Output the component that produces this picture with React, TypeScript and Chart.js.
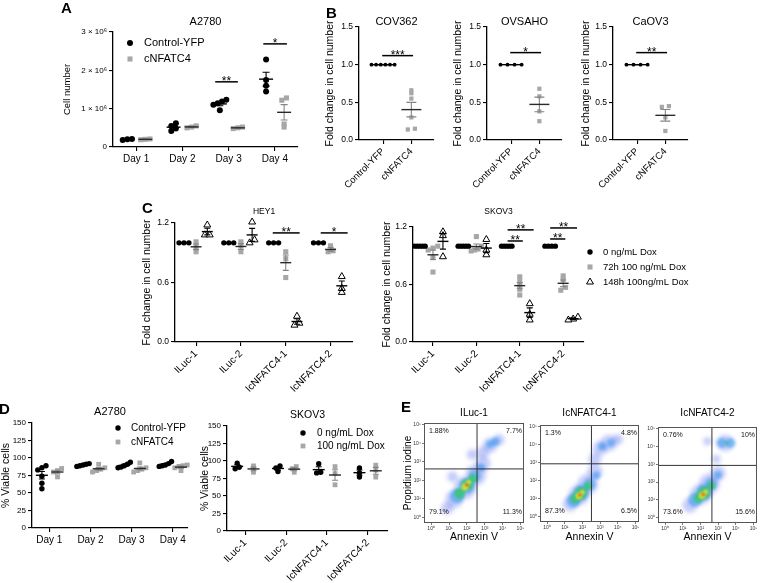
import React, { useEffect, useRef } from 'react';
import { Chart, registerables } from 'chart.js';

Chart.register(...registerables);

const W = 760;
const H = 583;
const FONT = "'Liberation Sans', Arial, Helvetica, sans-serif";
Chart.defaults.font.family = FONT;
Chart.defaults.color = '#000';

// ================= DATA =================
// Panel A: A2780 cell number (millions of cells)
const aDays = ['Day 1', 'Day 2', 'Day 3', 'Day 4'];
const aSeriesNames = ['Control-YFP', 'cNFATC4'];
const aControl = [[0.2, 0.18, 0.21], [0.62, 0.55, 0.48, 0.42], [0.96, 1.1, 1.14, 1.19, 1.23], [2.28, 1.75, 1.6, 1.45]];
const aNFATC4 = [[0.19, 0.2, 0.21], [0.55, 0.52, 0.5], [0.48, 0.5, 0.52], [1.28, 1.22, 0.6, 0.52]];
const aYTicks = [0, 1, 2, 3];
const aSig = [
  { x1: 1.71, x2: 2.2, y: 1.7, text: '**' },
  { x1: 2.75, x2: 3.26, y: 2.69, text: '*' },
];

// Panel B: fold change in cell number
const bCats = ['Control-YFP', 'cNFATC4'];
const bTitles = ['COV362', 'OVSAHO', 'CaOV3'];
const bControl = [[1, 1, 1, 1, 1, 1], [1, 1, 1, 1], [1, 1, 1, 1]];
const bNFATC4 = [[0.66, 0.62, 0.55, 0.3, 0.15, 0.14], [0.68, 0.58, 0.38, 0.25], [0.45, 0.44, 0.3, 0.12]];
const bYTicks = [0, 0.5, 1, 1.5];
const bStars = ['***', '*', '**'];
const bSigY = [1.12, 1.16, 1.16];

// Panel C: HEY1 and SKOV3 fold change
const cCats = ['ILuc-1', 'ILuc-2', 'IcNFATC4-1', 'IcNFATC4-2'];
const cSeriesNames = ['0 ng/mL Dox', '72h 100 ng/mL Dox', '148h 100ng/mL Dox'];
const cYTicks = [0, 0.6, 1.2];
const hey1Dox0 = [[1, 1, 1], [1, 1, 1], [1, 1, 1], [1, 1, 1]];
const hey1Dox72 = [[1.01, 0.96, 0.91], [1.01, 0.97, 0.91], [0.91, 0.84, 0.65], [0.97, 0.92, 0.91]];
const hey1Dox148 = [[1.18, 1.08, 1.08], [1.0, 1.03, 1.21], [0.26, 0.19, 0.17], [0.66, 0.54, 0.5]];
const hey1Sig = [
  { x1: 1.71, x2: 2.31, y: 1.1, text: '**' },
  { x1: 2.78, x2: 3.38, y: 1.1, text: '*' },
];
const skov3Dox0 = [[1, 1, 1, 1, 1], [1, 1, 1, 1, 1], [1, 1, 1, 1, 1], [1, 1, 1, 1]];
const skov3Dox72 = [[1.0, 0.98, 0.96, 0.88, 0.73], [1.1, 1.0, 0.97, 0.95, 0.96], [0.68, 0.63, 0.59, 0.55, 0.49], [0.69, 0.65, 0.57, 0.54]];
const skov3Dox148 = [[1.15, 1.11, 0.89], [1.07, 0.96, 0.91], [0.4, 0.29, 0.23], [0.26, 0.24, 0.23]];
const skov3Sig = [
  { x1: 1.72, x2: 2.32, y: 1.17, text: '**' },
  { x1: 1.72, x2: 2.07, y: 1.054, text: '**' },
  { x1: 2.7, x2: 3.32, y: 1.19, text: '**' },
  { x1: 2.7, x2: 3.05, y: 1.075, text: '**' },
];

// Panel D: % viable cells
const dYTicks = [0, 25, 50, 75, 100, 125, 150];
const dA2780Control = [[89, 86, 83, 74, 64, 56], [92, 91, 90, 89, 88], [94, 91, 89, 87, 86], [95, 92, 90, 89, 88]];
const dA2780NFATC4 = [[85, 82, 80, 73], [91, 86, 84, 82, 80], [93, 86, 84, 82, 80], [90, 89, 88, 86, 82]];
const dSkovSeriesNames = ['0 ng/mL Dox', '100 ng/mL Dox'];
const dSkov0 = [[97, 91, 89], [93, 90, 85], [96, 84, 83], [90, 83, 77]];
const dSkov100 = [[93, 89, 84], [92, 89, 84], [92, 82, 66], [94, 87, 77]];

// Panel E: flow cytometry (log10 Annexin V, log10 PI, spread in decades, density level)
const eTitles = ['ILuc-1', 'IcNFATC4-1', 'IcNFATC4-2'];
const ePercents = [
  ['1.88%', '7.7%', '79.1%', '11.3%'],
  ['1.3%', '4.8%', '87.3%', '6.5%'],
  ['0.76%', '10%', '73.6%', '15.6%'],
];
const eGateX = [2.57, 2.51, 2.65];
const eGateY = [2.62, 2.94, 2.94];
const eXRange = [-0.4, 5.2];
const eYRange = [-0.3, 5.1];
const eDecades = [0, 1, 2, 3, 4, 5];
const eDensity1 = [
  [0.9, 0.5, 0.35, 0], [1.3, 1.0, 0.5, 0], [1.9, 1.6, 0.62, 0], [2.5, 2.3, 0.58, 0], [2.9, 2.9, 0.42, 0],
  [2.9, 3.5, 0.35, 0], [3.3, 3.9, 0.42, 0], [3.8, 4.2, 0.32, 0], [2.3, 3.4, 0.3, 0], [1.2, 2.2, 0.3, 0],
  [1.45, 1.15, 0.4, 1], [2.0, 1.7, 0.45, 1], [2.45, 2.25, 0.35, 1], [2.8, 2.7, 0.22, 1], [3.3, 3.95, 0.22, 1], [3.6, 4.1, 0.24, 1],
  [1.6, 1.3, 0.3, 2], [2.0, 1.75, 0.34, 2], [2.35, 2.1, 0.25, 2],
  [1.9, 1.65, 0.19, 3], [2.1, 1.9, 0.14, 3],
  [2.0, 1.75, 0.1, 4],
];
const eDensity2 = [
  [1.3, 0.7, 0.42, 0], [1.8, 1.2, 0.58, 0], [2.3, 1.8, 0.58, 0], [2.7, 2.5, 0.42, 0], [2.7, 3.2, 0.36, 0],
  [3.0, 3.8, 0.42, 0], [3.5, 4.1, 0.47, 0], [4.0, 4.3, 0.3, 0],
  [1.5, 0.9, 0.4, 1], [1.9, 1.3, 0.45, 1], [2.4, 1.8, 0.35, 1], [2.8, 2.3, 0.22, 1], [3.1, 3.9, 0.22, 1], [3.6, 4.1, 0.22, 1],
  [1.6, 1.0, 0.28, 2], [1.9, 1.3, 0.35, 2], [2.3, 1.7, 0.22, 2],
  [1.8, 1.15, 0.19, 3], [2.0, 1.35, 0.14, 3],
  [1.85, 1.2, 0.1, 4],
];
const eDensity3 = [
  [1.4, 0.7, 0.42, 0], [2.0, 1.3, 0.58, 0], [2.5, 1.9, 0.58, 0], [3.0, 2.5, 0.42, 0], [2.9, 3.3, 0.24, 0],
  [3.4, 4.2, 0.47, 0], [2.4, 4.3, 0.24, 0],
  [1.7, 1.0, 0.4, 1], [2.2, 1.4, 0.45, 1], [2.6, 1.9, 0.35, 1], [3.0, 2.4, 0.22, 1], [3.2, 4.2, 0.28, 1], [3.7, 4.2, 0.28, 1],
  [1.9, 1.1, 0.28, 2], [2.2, 1.4, 0.35, 2], [2.6, 1.8, 0.22, 2], [3.5, 4.2, 0.1, 2],
  [2.1, 1.25, 0.19, 3], [2.3, 1.45, 0.14, 3],
  [2.15, 1.3, 0.1, 4],
];
const eDensity = [eDensity1, eDensity2, eDensity3];

// ================= STYLES =================
const GRAY = '#a7a7a7';
const eLevelColors = [
  'rgba(60,85,235,0.3)',
  'rgba(35,145,240,0.5)',
  'rgba(55,200,115,0.85)',
  'rgba(230,225,45,0.9)',
  'rgba(230,80,30,0.9)',
];
const SUP = ['\u2070', '\u00b9', '\u00b2', '\u00b3', '\u2074', '\u2075'];
const sBlack = { style: 'circle', fill: '#000', stroke: '#000', meanColor: '#000', ebColor: '#000' };
const sGray = { style: 'rect', fill: GRAY, stroke: GRAY, meanColor: '#2a2a2a', ebColor: '#858585' };
const sTri = { style: 'triangle', fill: '#fff', stroke: '#000', meanColor: '#000', ebColor: '#000' };

// ================= HELPERS =================
function swarm(vals: number[], cx: number, tol: number, step: number, half: number) {
  const idx = vals.map((_, i) => i).sort((a, b) => vals[a] - vals[b]);
  const out: any[] = new Array(vals.length);
  let cluster: number[] = [];
  const flush = () => {
    const n = cluster.length;
    const st = n > 1 ? Math.min(step, (2 * half) / (n - 1)) : 0;
    cluster.forEach((i, k) => {
      out[i] = { x: cx + (k - (n - 1) / 2) * st, y: vals[i] };
    });
    cluster = [];
  };
  idx.forEach((i) => {
    if (cluster.length && vals[i] - vals[cluster[cluster.length - 1]] > tol) flush();
    cluster.push(i);
  });
  flush();
  return out;
}

function fixAxis(width?: number, height?: number) {
  return (s: any) => {
    if (width !== undefined) s.width = width;
    if (height !== undefined) s.height = height;
    s.paddingLeft = 0;
    s.paddingRight = 0;
    s.paddingTop = 0;
    s.paddingBottom = 0;
  };
}

function drawMarker(ctx: any, style: string, x: number, y: number, r: number, fill: string, stroke: string) {
  ctx.beginPath();
  if (style === 'circle') ctx.arc(x, y, r, 0, Math.PI * 2);
  else if (style === 'rect') {
    const s = r * Math.SQRT1_2;
    ctx.rect(x - s, y - s, 2 * s, 2 * s);
  } else {
    ctx.moveTo(x, y - r);
    ctx.lineTo(x + r * 0.866, y + r * 0.5);
    ctx.lineTo(x - r * 0.866, y + r * 0.5);
    ctx.closePath();
  }
  ctx.fillStyle = fill;
  ctx.fill();
  if (style === 'triangle') {
    ctx.strokeStyle = stroke;
    ctx.lineWidth = 1;
    ctx.stroke();
  }
}

function makeDeco(p: any) {
  return {
    id: 'deco',
    beforeDatasetDraw(chart: any, args: any) {
      const ds = chart.data.datasets[args.index];
      if (ds && ds.blur) chart.ctx.filter = `blur(${ds.blur}px)`;
    },
    afterDatasetDraw(chart: any) {
      chart.ctx.filter = 'none';
    },
    afterDatasetsDraw(chart: any) {
      const ctx = chart.ctx;
      const xs = chart.scales.x;
      const ys = chart.scales.y;
      const ca = chart.chartArea;
      ctx.save();
      ctx.filter = 'none';
      chart.data.datasets.forEach((ds: any) => {
        if (!ds.groups) return;
        ds.groups.forEach((g: any) => {
          const n = g.vals.length;
          const mean = g.vals.reduce((a: number, b: number) => a + b, 0) / n;
          const sd = n > 1 ? Math.sqrt(g.vals.reduce((a: number, b: number) => a + (b - mean) ** 2, 0) / (n - 1)) : 0;
          const sem = sd / Math.sqrt(n);
          const px = xs.getPixelForValue(g.x);
          const pm = ys.getPixelForValue(mean);
          const pt = ys.getPixelForValue(mean + sem);
          const pb = ys.getPixelForValue(mean - sem);
          ctx.strokeStyle = ds.ebColor;
          ctx.lineWidth = 1.1;
          ctx.beginPath();
          ctx.moveTo(px, pt);
          ctx.lineTo(px, pb);
          ctx.moveTo(px - p.mean.cap, pt);
          ctx.lineTo(px + p.mean.cap, pt);
          ctx.moveTo(px - p.mean.cap, pb);
          ctx.lineTo(px + p.mean.cap, pb);
          ctx.stroke();
          ctx.strokeStyle = ds.meanColor;
          ctx.lineWidth = 1.4;
          ctx.beginPath();
          ctx.moveTo(px - p.mean.half, pm);
          ctx.lineTo(px + p.mean.half, pm);
          ctx.stroke();
        });
      });
      (p.sig || []).forEach((s: any) => {
        const x1 = xs.getPixelForValue(s.x1);
        const x2 = xs.getPixelForValue(s.x2);
        const y = ys.getPixelForValue(s.y);
        ctx.strokeStyle = '#000';
        ctx.lineWidth = 1.5;
        ctx.beginPath();
        ctx.moveTo(x1, y);
        ctx.lineTo(x2, y);
        ctx.stroke();
        ctx.fillStyle = '#000';
        ctx.font = `12px ${FONT}`;
        ctx.textAlign = 'center';
        ctx.textBaseline = 'alphabetic';
        ctx.fillText(s.text, (x1 + x2) / 2, y + 3.5);
      });
      if (p.frame) {
        ctx.strokeStyle = '#555';
        ctx.lineWidth = 1;
        ctx.strokeRect(ca.left + 0.5, ca.top + 0.5, ca.right - ca.left - 1, ca.bottom - ca.top - 1);
      }
      if (p.pct) {
        ctx.fillStyle = '#111';
        ctx.font = `7px ${FONT}`;
        ctx.textBaseline = 'middle';
        ctx.textAlign = 'left';
        ctx.fillText(p.pct[0], ca.left + 5, ca.top + 8);
        ctx.fillText(p.pct[2], ca.left + 5, ca.bottom - 11);
        ctx.textAlign = 'right';
        ctx.fillText(p.pct[1], ca.right - 2, ca.top + 8);
        ctx.fillText(p.pct[3], ca.right - 2, ca.bottom - 11);
      }
      ctx.restore();
    },
    afterDraw(chart: any) {
      const ctx = chart.ctx;
      const ca = chart.chartArea;
      ctx.save();
      ctx.filter = 'none';
      if (p.title) {
        ctx.fillStyle = '#000';
        ctx.font = `${p.title.size}px ${FONT}`;
        ctx.textAlign = 'center';
        ctx.textBaseline = 'middle';
        ctx.fillText(p.title.text, (ca.left + ca.right) / 2, p.title.y);
      }
      if (p.legend) {
        const lg = p.legend;
        lg.items.forEach((it: any, i: number) => {
          const y = lg.y0 + i * lg.dy;
          drawMarker(ctx, it.style, lg.mx, y, it.r, it.fill, it.stroke);
          ctx.fillStyle = '#000';
          ctx.font = `${lg.size}px ${FONT}`;
          ctx.textAlign = 'left';
          ctx.textBaseline = 'middle';
          ctx.fillText(it.label, lg.tx, y);
        });
      }
      (p.letters || []).forEach((l: any) => {
        ctx.fillStyle = '#000';
        ctx.font = `bold 15px ${FONT}`;
        ctx.textAlign = 'left';
        ctx.textBaseline = 'alphabetic';
        ctx.fillText(l.t, l.x, l.y);
      });
      ctx.restore();
    },
  };
}

function buildDot(p: any) {
  const [L, T, R, B] = p.area;
  const ySize = p.yTitleSize || 11;
  const lh = ySize * 1.2;
  const padLeft = p.yTitle ? Math.max(0, p.yTitleX - lh / 2) : L - 40;
  const hx = 60;
  const datasets = p.series.map((s: any) => {
    const groups = s.vals.map((v: number[], i: number) => ({ x: i + s.offset, vals: v }));
    const data = groups.flatMap((g: any) => swarm(g.vals, g.x, p.jit.tol, p.jit.step, p.jit.half));
    return {
      label: s.label,
      data,
      pointStyle: s.style,
      pointRadius: s.r,
      pointHoverRadius: s.r,
      backgroundColor: s.fill,
      borderColor: s.stroke,
      borderWidth: s.style === 'triangle' ? 1 : 0,
      clip: false,
      groups,
      meanColor: s.meanColor,
      ebColor: s.ebColor,
    };
  });
  const legend = p.legend
    ? { ...p.legend, items: p.series.map((s: any) => ({ label: s.label, style: s.style, fill: s.fill, stroke: s.stroke, r: s.legendR || s.r })) }
    : null;
  return {
    type: 'scatter',
    data: { datasets },
    options: {
      responsive: false,
      animation: false,
      events: [],
      layout: { padding: { left: padLeft, top: T, right: W - R, bottom: H - B - hx } },
      plugins: { legend: { display: false }, tooltip: { enabled: false }, title: { display: false } },
      scales: {
        x: {
          type: 'linear',
          min: p.xMin,
          max: p.xMax,
          afterBuildTicks: (s: any) => {
            s.ticks = p.cats.map((_: string, i: number) => ({ value: i }));
          },
          afterFit: fixAxis(undefined, hx),
          ticks: {
            callback: (v: number) => p.cats[Math.round(v)] ?? '',
            autoSkip: false,
            minRotation: p.rot,
            maxRotation: p.rot,
            font: { size: p.xTickSize },
            color: '#000',
            padding: 2,
          },
          grid: { drawOnChartArea: false, tickLength: 4, color: '#000', lineWidth: 1.1 },
          border: { color: '#000', width: 1.3 },
        },
        y: {
          type: 'linear',
          min: p.yMin,
          max: p.yMax,
          afterBuildTicks: (s: any) => {
            s.ticks = p.yTicks.map((v: number) => ({ value: v }));
          },
          afterFit: fixAxis(L - padLeft, undefined),
          ticks: { callback: p.yFmt, font: { size: p.yTickSize }, color: '#000', padding: 2 },
          grid: { drawOnChartArea: false, tickLength: 4, color: '#000', lineWidth: 1.1 },
          border: { color: '#000', width: 1.3 },
          title: p.yTitle
            ? { display: true, text: p.yTitle, font: { size: ySize }, padding: 0, color: '#000' }
            : { display: false },
        },
      },
    },
    plugins: [makeDeco({ ...p, legend })],
  };
}

function buildFlow(i: number) {
  const areas = [[424, 423, 524, 523], [540, 425, 639, 522], [658, 427, 757, 523]];
  const [L, T, R, B] = areas[i];
  const hasY = i === 0;
  const padLeft = hasY ? 402 : L - 14;
  const hx = 543 - B;
  const pxPerDec = (c: any) => {
    const s = c.chart.scales.x;
    return s ? Math.abs(s.getPixelForValue(10) - s.getPixelForValue(1)) : 17;
  };
  const datasets: any[] = [];
  [0, 1, 2, 3, 4].forEach((lvl) => {
    datasets.push({
      data: eDensity[i].filter((d) => d[3] === lvl).map((d) => ({ x: 10 ** d[0], y: 10 ** d[1], s: d[2] })),
      pointStyle: 'circle',
      pointRadius: (c: any) => (c.raw ? c.raw.s * pxPerDec(c) : 0),
      backgroundColor: eLevelColors[lvl],
      borderWidth: 0,
      clip: 0,
      order: 10 - lvl,
      blur: lvl === 0 ? 2.2 : lvl === 1 ? 1.8 : 1.2,
    });
  });
  const gateStyle = { showLine: true, pointRadius: 0, borderColor: '#333', borderWidth: 1, order: 0, clip: 0 };
  datasets.push({ ...gateStyle, data: [{ x: 10 ** eGateX[i], y: 10 ** eYRange[0] }, { x: 10 ** eGateX[i], y: 10 ** eYRange[1] }] });
  datasets.push({ ...gateStyle, data: [{ x: 10 ** eXRange[0], y: 10 ** eGateY[i] }, { x: 10 ** eXRange[1], y: 10 ** eGateY[i] }] });
  const tickFmt = (v: number) => '10' + SUP[Math.round(Math.log10(v))];
  const axisCommon = {
    type: 'logarithmic',
    afterBuildTicks: (s: any) => {
      s.ticks = eDecades.map((e) => ({ value: 10 ** e }));
    },
    ticks: { callback: tickFmt, font: { size: 5 }, color: '#333', padding: 1, autoSkip: false, minRotation: 0, maxRotation: 0 },
    grid: { drawOnChartArea: false, tickLength: 2, color: '#555', lineWidth: 0.8 },
    border: { display: false },
  };
  return {
    type: 'scatter',
    data: { datasets },
    options: {
      responsive: false,
      animation: false,
      events: [],
      layout: { padding: { left: padLeft, top: T, right: W - R, bottom: H - B - hx } },
      plugins: { legend: { display: false }, tooltip: { enabled: false }, title: { display: false } },
      scales: {
        x: {
          ...axisCommon,
          min: 10 ** eXRange[0],
          max: 10 ** eXRange[1],
          afterFit: fixAxis(undefined, hx),
          title: { display: true, text: 'Annexin V', font: { size: 10.5 }, padding: 0, color: '#000' },
        },
        y: {
          ...axisCommon,
          min: 10 ** eYRange[0],
          max: 10 ** eYRange[1],
          afterFit: fixAxis(L - padLeft, undefined),
          title: hasY
            ? { display: true, text: 'Propidium iodine', font: { size: 10 }, padding: 0, color: '#000' }
            : { display: false },
        },
      },
    },
    plugins: [
      makeDeco({
        frame: true,
        pct: ePercents[i],
        title: { text: eTitles[i], y: 413, size: 10 },
        letters: i === 0 ? [{ t: 'E', x: 401, y: 412 }] : [],
      }),
    ],
  };
}

// ================= PANEL CONFIGS =================
const fmt1 = (v: number) => v.toFixed(1);
const panels: any[] = [];

panels.push(() =>
  buildDot({
    area: [113, 32, 298, 147],
    yTitle: 'Cell number',
    yTitleX: 67,
    yTitleSize: 9.5,
    xMin: -0.5,
    xMax: 3.5,
    yMin: 0,
    yMax: 3,
    yTicks: aYTicks,
    yFmt: (v: number) => (v === 0 ? '0' : `${v} \u00d7 10\u2076`),
    yTickSize: 8,
    cats: aDays,
    rot: 0,
    xTickSize: 10,
    series: [
      { ...sBlack, label: aSeriesNames[0], vals: aControl, offset: -0.19, r: 3 },
      { ...sGray, label: aSeriesNames[1], vals: aNFATC4, offset: 0.2, r: 3.6 },
    ],
    jit: { tol: 0.07, step: 0.1, half: 0.14 },
    mean: { half: 7, cap: 3.5 },
    title: { text: 'A2780', y: 22, size: 11 },
    legend: { mx: 130, tx: 144, y0: 43, dy: 16, size: 11 },
    sig: aSig,
    letters: [{ t: 'A', x: 61, y: 13 }],
  })
);

const bAreas = [[359, 27, 434, 140], [487, 27, 562, 140], [613, 27, 688, 140]];
const bYTitleX = [330, 458, 586];
bTitles.forEach((t, i) => {
  panels.push(() =>
    buildDot({
      area: bAreas[i],
      yTitle: 'Fold change in cell number',
      yTitleX: bYTitleX[i],
      yTitleSize: 10.5,
      xMin: -0.85,
      xMax: 1.8,
      yMin: 0,
      yMax: 1.5,
      yTicks: bYTicks,
      yFmt: fmt1,
      yTickSize: 8.5,
      cats: bCats,
      rot: 45,
      xTickSize: 9.5,
      series: [
        { ...sBlack, label: bCats[0], vals: [bControl[i]], offset: 0, r: 1.9 },
        { ...sGray, label: bCats[1], vals: [bNFATC4[i]], offset: 1, r: 3 },
      ],
      jit: { tol: 0.04, step: 0.25, half: 0.41 },
      mean: { half: 10, cap: 5 },
      title: { text: t, y: 22, size: 11 },
      sig: [{ x1: -0.03, x2: 1.06, y: bSigY[i], text: bStars[i] }],
      letters: i === 0 ? [{ t: 'B', x: 326, y: 18 }] : [],
    })
  );
});

panels.push(() =>
  buildDot({
    area: [175, 223, 353, 342],
    yTitle: 'Fold change in cell number',
    yTitleX: 147,
    yTitleSize: 10.5,
    xMin: -0.47,
    xMax: 3.5,
    yMin: 0,
    yMax: 1.2,
    yTicks: cYTicks,
    yFmt: fmt1,
    yTickSize: 8.5,
    cats: cCats,
    rot: 45,
    xTickSize: 10,
    series: [
      { ...sBlack, label: cSeriesNames[0], vals: hey1Dox0, offset: -0.27, r: 2.7 },
      { ...sGray, label: cSeriesNames[1], vals: hey1Dox72, offset: 0, r: 3.6 },
      { ...sTri, label: cSeriesNames[2], vals: hey1Dox148, offset: 0.25, r: 4 },
    ],
    jit: { tol: 0.035, step: 0.11, half: 0.12 },
    mean: { half: 5.5, cap: 3 },
    title: { text: 'HEY1', y: 212, size: 8.5 },
    sig: hey1Sig,
    letters: [{ t: 'C', x: 142, y: 213 }],
  })
);

panels.push(() =>
  buildDot({
    area: [413, 227, 584, 342],
    yTitle: 'Fold change in cell number',
    yTitleX: 387,
    yTitleSize: 10.5,
    xMin: -0.46,
    xMax: 3.48,
    yMin: 0,
    yMax: 1.2,
    yTicks: cYTicks,
    yFmt: fmt1,
    yTickSize: 8.5,
    cats: cCats,
    rot: 45,
    xTickSize: 10,
    series: [
      { ...sBlack, label: cSeriesNames[0], vals: skov3Dox0, offset: -0.3, r: 2.7 },
      { ...sGray, label: cSeriesNames[1], vals: skov3Dox72, offset: 0, r: 3.6 },
      { ...sTri, label: cSeriesNames[2], vals: skov3Dox148, offset: 0.23, r: 4 },
    ],
    jit: { tol: 0.035, step: 0.11, half: 0.12 },
    mean: { half: 5.5, cap: 3 },
    title: { text: 'SKOV3', y: 212, size: 8.5 },
    legend: { mx: 590, tx: 603, y0: 252, dy: 15, size: 9.5 },
    sig: skov3Sig,
  })
);

panels.push(() =>
  buildDot({
    area: [32, 423, 188, 528],
    yTitle: '% Viable cells',
    yTitleX: 6,
    yTitleSize: 10.5,
    xMin: -0.42,
    xMax: 3.37,
    yMin: 0,
    yMax: 150,
    yTicks: dYTicks,
    yFmt: (v: number) => String(v),
    yTickSize: 8,
    cats: aDays,
    rot: 0,
    xTickSize: 10,
    series: [
      { ...sBlack, label: aSeriesNames[0], vals: dA2780Control, offset: -0.18, r: 2.7 },
      { ...sGray, label: aSeriesNames[1], vals: dA2780NFATC4, offset: 0.2, r: 3.4 },
    ],
    jit: { tol: 3.5, step: 0.1, half: 0.15 },
    mean: { half: 6, cap: 3 },
    title: { text: 'A2780', y: 412, size: 11 },
    legend: { mx: 118, tx: 131, y0: 428, dy: 14, size: 10 },
    letters: [{ t: 'D', x: -1, y: 414 }],
  })
);

panels.push(() =>
  buildDot({
    area: [227, 426, 388, 531],
    yTitle: '% Viable cells',
    yTitleX: 205,
    yTitleSize: 10.5,
    xMin: -0.45,
    xMax: 3.5,
    yMin: 0,
    yMax: 150,
    yTicks: dYTicks,
    yFmt: (v: number) => String(v),
    yTickSize: 8,
    cats: cCats,
    rot: 45,
    xTickSize: 10,
    series: [
      { ...sBlack, label: dSkovSeriesNames[0], vals: dSkov0, offset: -0.2, r: 2.7 },
      { ...sGray, label: dSkovSeriesNames[1], vals: dSkov100, offset: 0.2, r: 3.4 },
    ],
    jit: { tol: 3.5, step: 0.1, half: 0.15 },
    mean: { half: 6, cap: 3 },
    title: { text: 'SKOV3', y: 415, size: 10.5 },
    legend: { mx: 303, tx: 317, y0: 433, dy: 13, size: 10 },
  })
);

[0, 1, 2].forEach((i) => panels.push(() => buildFlow(i)));

// ================= COMPONENTS =================
function ChartCanvas({ make }: { make: () => any }) {
  const ref = useRef<HTMLCanvasElement>(null);
  useEffect(() => {
    const chart = new Chart(ref.current as HTMLCanvasElement, make());
    return () => chart.destroy();
  }, [make]);
  return (
    <canvas
      ref={ref}
      width={W}
      height={H}
      style={{ position: 'absolute', left: 0, top: 0, width: W, height: H, pointerEvents: 'none' }}
    />
  );
}

export default function App() {
  return (
    <div style={{ position: 'absolute', left: 0, top: 0, width: W, height: H, background: '#fff', overflow: 'hidden' }}>
      {panels.map((m, i) => (
        <ChartCanvas key={i} make={m} />
      ))}
    </div>
  );
}
